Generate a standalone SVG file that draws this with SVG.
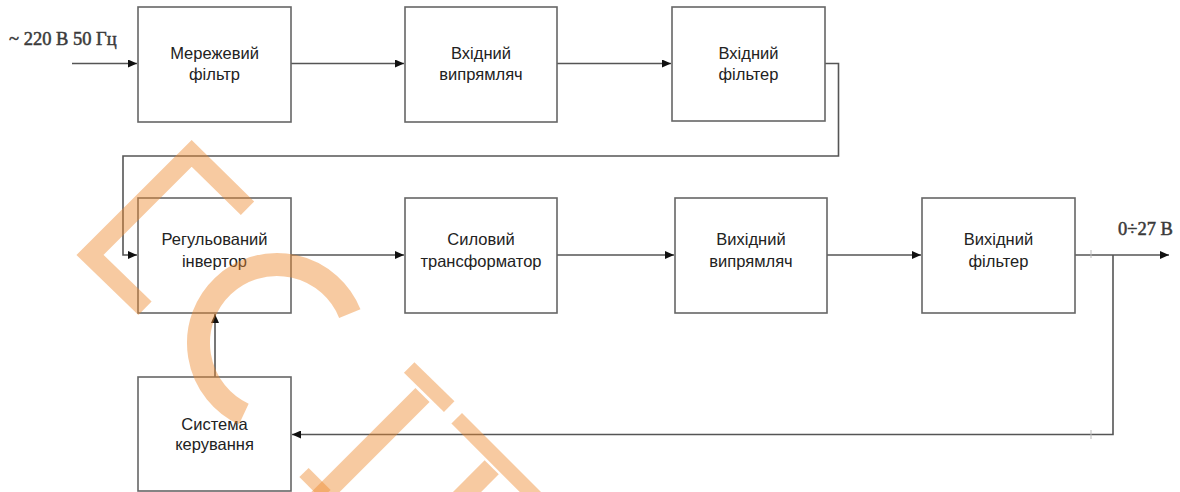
<svg xmlns="http://www.w3.org/2000/svg" width="1180" height="492" viewBox="0 0 1180 492">
<style>
.box{fill:#fff;stroke:#666;stroke-width:1.6}
.lbl{font-family:"Liberation Sans",Arial,sans-serif;font-size:16.5px;fill:#222;text-anchor:middle}
.ext{font-family:"Liberation Serif","Times New Roman",serif;font-size:18.5px;fill:#3a3a3a;stroke:#3a3a3a;stroke-width:0.5}
.ln{fill:none;stroke:#555;stroke-width:1.6}
.tick{stroke:#bbb;stroke-width:1}
.wm{fill:none;stroke:#ee8a2e;stroke-opacity:0.45;stroke-linecap:butt;stroke-linejoin:miter}
</style>
<defs>
<marker id="arr" markerUnits="userSpaceOnUse" markerWidth="10" markerHeight="8" refX="9" refY="4" orient="auto">
<path d="M0,0 L9,4 L0,8 z" fill="#111"/>
</marker>
</defs>
<rect width="1180" height="492" fill="#fff"/>
<g id="connectors">
<path class="ln" d="M72,63.5 H137" marker-end="url(#arr)"/>
<path class="ln" d="M291,63.5 H404" marker-end="url(#arr)"/>
<path class="ln" d="M557,63.5 H671" marker-end="url(#arr)"/>
<path class="ln" d="M825,63.5 H838.5 V156 H123 V255 H137" marker-end="url(#arr)"/>
<path class="ln" d="M291,255 H404" marker-end="url(#arr)"/>
<path class="ln" d="M557,255 H674" marker-end="url(#arr)"/>
<path class="ln" d="M827,255 H921" marker-end="url(#arr)"/>
<path class="ln" d="M1075,255 H1169" marker-end="url(#arr)"/>
<path class="ln" d="M1113,255 V434.5 H292" marker-end="url(#arr)"/>
<path class="ln" d="M215,377 V314" marker-end="url(#arr)"/>
<line class="tick" x1="1091" y1="250" x2="1091" y2="258"/>
<line class="tick" x1="1091" y1="430" x2="1091" y2="439"/>
</g>
<text class="ext" x="9" y="45">~ 220 В 50 Гц</text>
<text class="ext" x="1118" y="235">0÷27 В</text>
<g id="n1"><rect class="box" x="138" y="7" width="153" height="115"/><text class="lbl" x="214.5" y="59">Мережевий</text><text class="lbl" x="214.5" y="80">фільтр</text></g>
<g id="n2"><rect class="box" x="405" y="7" width="152" height="115"/><text class="lbl" x="481" y="59">Вхідний</text><text class="lbl" x="481" y="80">випрямляч</text></g>
<g id="n3"><rect class="box" x="672" y="7" width="153" height="114"/><text class="lbl" x="748.5" y="59">Вхідний</text><text class="lbl" x="748.5" y="80">фільтер</text></g>
<g id="n4"><rect class="box" x="138" y="198" width="153" height="115"/><text class="lbl" x="214.5" y="245">Регульований</text><text class="lbl" x="214.5" y="267">інвертор</text></g>
<g id="n5"><rect class="box" x="405" y="198" width="152" height="115"/><text class="lbl" x="481" y="245">Силовий</text><text class="lbl" x="481" y="267">трансформатор</text></g>
<g id="n6"><rect class="box" x="675" y="198" width="152" height="115"/><text class="lbl" x="751" y="245">Вихідний</text><text class="lbl" x="751" y="267">випрямляч</text></g>
<g id="n7"><rect class="box" x="922" y="198" width="153" height="115"/><text class="lbl" x="998.5" y="245">Вихідний</text><text class="lbl" x="998.5" y="267">фільтер</text></g>
<g id="n8"><rect class="box" x="138" y="377" width="153" height="114"/><text class="lbl" x="214.5" y="430">Система</text><text class="lbl" x="214.5" y="450">керування</text></g>
<g id="watermark">
<path class="wm" stroke-width="19" d="M145,308.3 L90,255 L191.7,153.4 L247.5,208.3"/>
<path class="wm" stroke-width="23" d="M349.8,313.6 A78.5,78.5 0 1 0 243.8,414.1"/>
<path class="wm" stroke-width="15" d="M409.2,367.5 L449.2,406.7"/>
<path class="wm" stroke-width="20" d="M422.5,395 L318,499.5"/>
<path class="wm" stroke-width="13" d="M304,472.5 L326,494.5"/>
<path class="wm" stroke-width="15" d="M456.7,418.3 L570,531.6"/>
<path class="wm" stroke-width="20" d="M491.7,467.3 L460,499"/>
</g>
</svg>
